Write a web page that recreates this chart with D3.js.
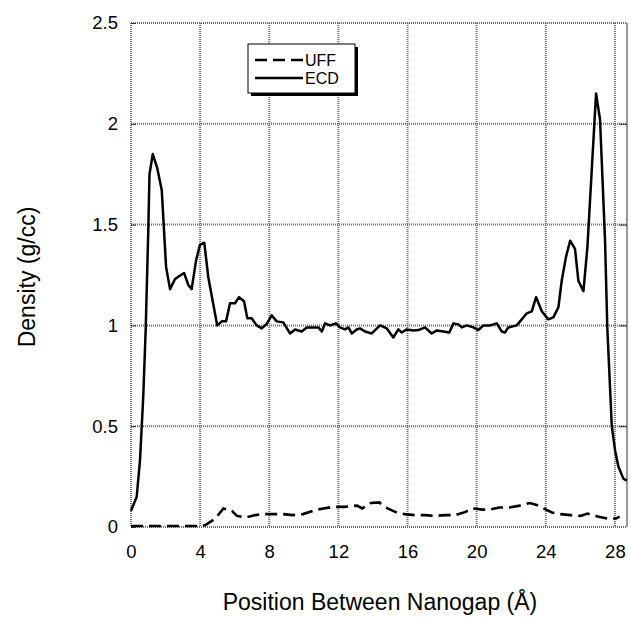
<!DOCTYPE html>
<html><head><meta charset="utf-8">
<script src="https://cdn.jsdelivr.net/npm/d3@7"></script>
<style>body{margin:0;background:#fff}svg{display:block}text{font-family:"Liberation Sans",Arial,Helvetica,sans-serif;fill:#000}</style>
</head><body><svg id="c" width="631" height="619"></svg>
<script>
const xTicks = [0,4,8,12,16,20,24,28];
const yTicks = [0,0.5,1,1.5,2,2.5];
const seriesNames = ["UFF","ECD"];
const ecdX = [0,0.33,0.52,0.71,0.85,1.0,1.07,1.26,1.52,1.78,2.03,2.26,2.55,2.80,3.07,3.32,3.51,3.76,3.99,4.24,4.47,4.75,4.99,5.25,5.50,5.73,6.02,6.25,6.54,6.73,6.98,7.27,7.56,7.85,8.14,8.43,8.81,9.20,9.49,9.88,10.17,10.55,10.84,11.04,11.23,11.52,11.86,12.09,12.38,12.58,12.77,13.06,13.25,13.54,13.93,14.41,14.80,15.18,15.47,15.67,15.95,16.34,16.63,17.01,17.40,17.69,18.07,18.42,18.65,18.94,19.14,19.43,19.81,20.10,20.39,20.78,21.16,21.45,21.64,21.83,22.32,22.61,22.90,23.19,23.44,23.77,24.15,24.44,24.73,24.92,25.17,25.41,25.69,25.89,26.18,26.41,26.66,26.91,27.14,27.43,27.56,27.82,28.01,28.20,28.49,28.69];
const ecdY = [0.08,0.15,0.33,0.65,0.98,1.47,1.75,1.85,1.78,1.67,1.29,1.18,1.23,1.245,1.26,1.20,1.18,1.32,1.40,1.41,1.24,1.11,1.0,1.02,1.02,1.11,1.11,1.14,1.12,1.035,1.035,1.0,0.985,1.007,1.05,1.02,1.015,0.96,0.98,0.97,0.99,0.99,0.99,0.97,1.01,1.0,1.01,0.99,0.98,0.99,0.96,0.98,0.985,0.97,0.96,1.0,0.985,0.94,0.98,0.965,0.98,0.975,0.977,0.99,0.96,0.975,0.97,0.965,1.01,1.005,0.99,1.0,0.99,0.977,1.0,1.0,1.01,0.97,0.965,0.99,1.0,1.03,1.06,1.07,1.14,1.07,1.03,1.04,1.09,1.22,1.34,1.42,1.38,1.22,1.17,1.39,1.77,2.15,2.02,1.42,0.99,0.5,0.38,0.30,0.24,0.23];
const uffX = [0,1,2,3,4.1,4.3,4.86,5.35,5.84,6.13,6.63,7.21,7.6,8.2,8.78,9.37,9.95,10.74,11.13,11.72,12.31,13.09,13.38,13.87,14.36,14.85,15.44,15.83,16.42,17.0,17.59,18.18,18.77,19.36,19.75,20.34,20.73,21.31,21.9,22.49,23.08,23.47,23.96,24.35,24.84,25.43,26.01,26.41,27.0,27.58,28.07,28.27];
const uffY = [0.005,0.005,0.005,0.005,0.005,0.01,0.04,0.092,0.08,0.055,0.047,0.059,0.064,0.064,0.064,0.059,0.064,0.086,0.092,0.10,0.10,0.106,0.092,0.119,0.122,0.092,0.069,0.064,0.059,0.059,0.055,0.059,0.059,0.075,0.092,0.086,0.086,0.097,0.097,0.106,0.119,0.109,0.089,0.072,0.064,0.059,0.055,0.067,0.052,0.042,0.042,0.052];

const svg = d3.select("#c");
const L=131, R=627, T=23, B=527;
const x = d3.scaleLinear().domain([0,28.7]).range([L,R]);
const y = d3.scaleLinear().domain([0,2.5]).range([B,T]);
const grid = {stroke:"#6e6e6e", w:2, dash:"1,1"};

svg.append("g").selectAll("line").data(xTicks).join("line")
  .attr("x1",d=>x(d)).attr("x2",d=>x(d)).attr("y1",T).attr("y2",B)
  .attr("stroke",grid.stroke).attr("stroke-width",grid.w).attr("stroke-dasharray",grid.dash);
svg.append("g").selectAll("line").data(yTicks).join("line")
  .attr("x1",L).attr("x2",R).attr("y1",d=>y(d)).attr("y2",d=>y(d))
  .attr("stroke",grid.stroke).attr("stroke-width",grid.w).attr("stroke-dasharray",grid.dash);
svg.append("line").attr("x1",L).attr("x2",L).attr("y1",T).attr("y2",B)
  .attr("stroke",grid.stroke).attr("stroke-width",grid.w).attr("stroke-dasharray",grid.dash);
svg.append("line").attr("x1",R).attr("x2",R).attr("y1",T).attr("y2",B)
  .attr("stroke","#333").attr("stroke-width",1);

const yAxis = d3.axisLeft(y).tickValues(yTicks).tickSize(-5).tickPadding(13).tickFormat(d3.format("~g"));
const gy = svg.append("g").attr("transform",`translate(${L},0)`).call(yAxis);
gy.select(".domain").remove();
gy.selectAll("line").attr("stroke","#333");
gy.selectAll("text").style("font-size","18.5px");
const gyr = svg.append("g").attr("transform",`translate(${R},0)`).call(d3.axisRight(y).tickValues(yTicks.slice(1,5)).tickSize(-8).tickFormat(""));
gyr.select(".domain").remove(); gyr.selectAll("line").attr("stroke","#333");

const xAxis = d3.axisBottom(x).tickValues(xTicks).tickSize(0).tickPadding(18);
const gx = svg.append("g").attr("transform",`translate(0,${B})`).call(xAxis);
gx.select(".domain").remove();
gx.selectAll("text").style("font-size","18.5px");

const line = d3.line().x(d=>x(d[0])).y(d=>y(d[1]));
const ecd = ecdX.map((v,i)=>[v,ecdY[i]]);
const uff = uffX.map((v,i)=>[v,uffY[i]]);
svg.append("path").datum(uff).attr("d",line).attr("fill","none").attr("stroke","#000")
  .attr("stroke-width",2.6).attr("stroke-dasharray","12,6");
svg.append("path").datum(ecd).attr("d",line).attr("fill","none").attr("stroke","#000")
  .attr("stroke-width",2.5).attr("stroke-linejoin","round");

svg.append("text").attr("x",380).attr("y",610).attr("text-anchor","middle")
  .style("font-size","23px").text("Position Between Nanogap (Å)");
svg.append("text").attr("transform","translate(35,277) rotate(-90)").attr("text-anchor","middle")
  .style("font-size","23px").text("Density (g/cc)");

const lg = svg.append("g");
lg.append("rect").attr("x",251).attr("y",47).attr("width",107).attr("height",49).attr("fill","#000");
lg.append("rect").attr("x",248).attr("y",44).attr("width",107).attr("height",49).attr("fill","#fff").attr("stroke","#000").attr("stroke-width",1);
const items = [{n:seriesNames[0],dash:"12,6"},{n:seriesNames[1],dash:null}];
items.forEach((it,i)=>{
  const yy = 60 + i*18;
  const l = lg.append("line").attr("x1",255).attr("x2",303).attr("y1",yy).attr("y2",yy)
    .attr("stroke","#000").attr("stroke-width",2.6);
  if(it.dash) l.attr("stroke-dasharray",it.dash);
  lg.append("text").attr("x",305).attr("y",yy+6).style("font-size","16px").text(it.n);
});
</script></body></html>
